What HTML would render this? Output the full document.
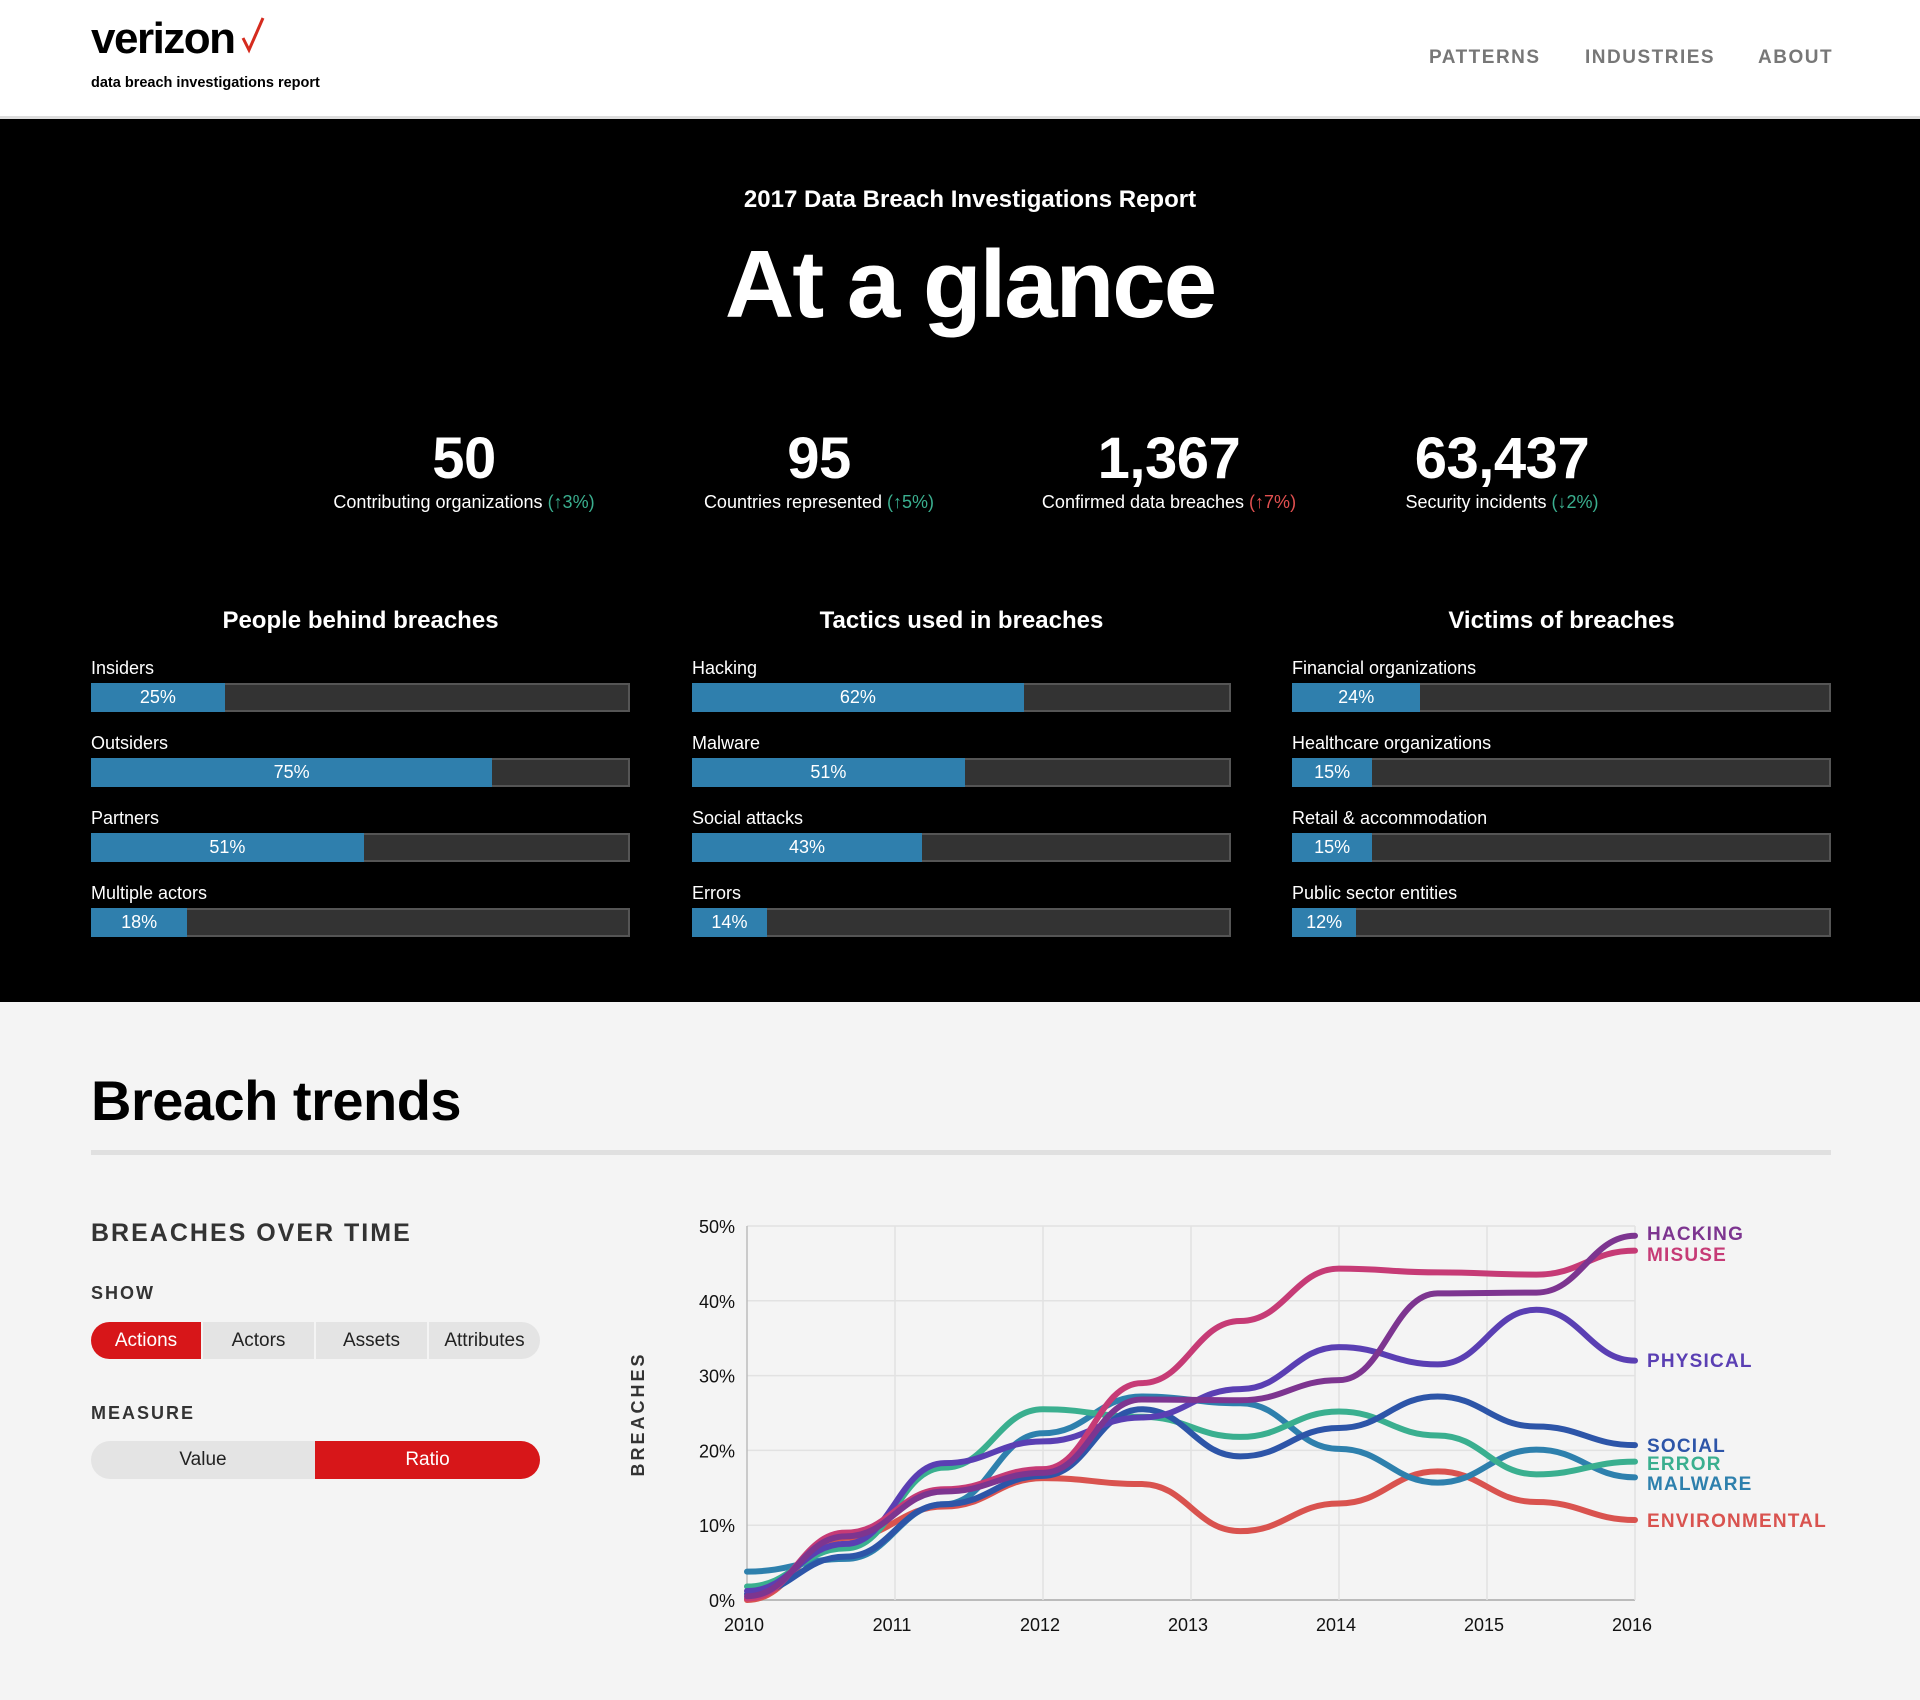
<!DOCTYPE html>
<html><head><meta charset="utf-8"><style>
*{box-sizing:border-box;margin:0;padding:0}
body{width:1920px;height:1700px;overflow:hidden;font-family:"Liberation Sans",sans-serif;background:#f4f4f4}
.hdr{position:absolute;left:0;top:0;width:1920px;height:119px;background:#fff;border-bottom:3px solid #ddd}
.logo{position:absolute;left:91px;top:14px;font-size:44px;font-weight:bold;letter-spacing:-1.5px;color:#000}
.sub{position:absolute;left:91px;top:75px;font-size:14.5px;font-weight:bold;color:#000}
.nav{position:absolute;top:47px;font-size:19px;font-weight:bold;color:#777;letter-spacing:1.5px}
.blk{position:absolute;left:0;top:119px;width:1920px;height:883px;background:#000;color:#fff}
.c{position:absolute;text-align:center;transform:translateX(-50%);white-space:nowrap}
.stat .n{font-size:58px;font-weight:bold;letter-spacing:-0.5px}
.stat .l{font-size:18px;margin-top:0px}
.up{color:#3aaf8f}.dn{color:#e25050}
.col{position:absolute;top:488px;width:539px}
.col h3{text-align:center;font-size:24px;font-weight:bold;margin-bottom:22px}
.row{height:75px}
.row .lab{font-size:18px;height:22px;line-height:22px}
.bar{margin-top:4px;height:29px;background:#333;border:2px solid #555;position:relative}
.bar .f{position:absolute;left:-2px;top:-2px;bottom:-2px;background:#2f7fad;color:#fff;font-size:18px;text-align:center;line-height:29px}
h1.bt{position:absolute;left:91px;top:1068px;font-size:56px;font-weight:bold;color:#000;letter-spacing:-0.5px}
.rule{position:absolute;left:91px;top:1150px;width:1740px;height:5px;background:#e0e0e0}
.lbl{position:absolute;left:91px;font-weight:bold;color:#333;letter-spacing:2px}
.btns{position:absolute;left:91px;width:449px;display:flex;gap:2px}
.btns div{background:#e4e4e4;color:#222;font-size:19px;display:flex;align-items:center;justify-content:center;height:100%}
.btns .on{background:#d71619;color:#fff}
</style></head><body>
<div class="hdr">
 <div class="logo">verizon</div>
 <svg style="position:absolute;left:240px;top:16px" width="26" height="38"><path d="M3 22 L9 34 L23 2" fill="none" stroke="#d52b1e" stroke-width="3"/></svg>
 <div class="sub">data breach investigations report</div>
 <div class="nav" style="left:1429px">PATTERNS</div>
 <div class="nav" style="left:1585px">INDUSTRIES</div>
 <div class="nav" style="left:1758px">ABOUT</div>
</div>
<div class="blk">
 <div class="c" style="left:970px;top:67px;font-size:24px;font-weight:bold">2017 Data Breach Investigations Report</div>
 <div class="c" style="left:970px;top:111px;font-size:96px;font-weight:bold;letter-spacing:-2px">At a glance</div>
 <div class="c stat" style="left:464px;top:306px"><div class="n">50</div><div class="l">Contributing organizations <span class="up">(↑3%)</span></div></div>
 <div class="c stat" style="left:819px;top:306px"><div class="n">95</div><div class="l">Countries represented <span class="up">(↑5%)</span></div></div>
 <div class="c stat" style="left:1169px;top:306px"><div class="n">1,367</div><div class="l">Confirmed data breaches <span class="dn">(↑7%)</span></div></div>
 <div class="c stat" style="left:1502px;top:306px"><div class="n">63,437</div><div class="l">Security incidents <span class="up">(↓2%)</span></div></div>
 <div class="col" style="left:91px"><h3>People behind breaches</h3>
  <div class="row"><div class="lab">Insiders</div><div class="bar"><div class="f" style="width:25%">25%</div></div></div>
  <div class="row"><div class="lab">Outsiders</div><div class="bar"><div class="f" style="width:75%">75%</div></div></div>
  <div class="row"><div class="lab">Partners</div><div class="bar"><div class="f" style="width:51%">51%</div></div></div>
  <div class="row"><div class="lab">Multiple actors</div><div class="bar"><div class="f" style="width:18%">18%</div></div></div>
 </div>
 <div class="col" style="left:692px"><h3>Tactics used in breaches</h3>
  <div class="row"><div class="lab">Hacking</div><div class="bar"><div class="f" style="width:62%">62%</div></div></div>
  <div class="row"><div class="lab">Malware</div><div class="bar"><div class="f" style="width:51%">51%</div></div></div>
  <div class="row"><div class="lab">Social attacks</div><div class="bar"><div class="f" style="width:43%">43%</div></div></div>
  <div class="row"><div class="lab">Errors</div><div class="bar"><div class="f" style="width:14%">14%</div></div></div>
 </div>
 <div class="col" style="left:1292px"><h3>Victims of breaches</h3>
  <div class="row"><div class="lab">Financial organizations</div><div class="bar"><div class="f" style="width:24%">24%</div></div></div>
  <div class="row"><div class="lab">Healthcare organizations</div><div class="bar"><div class="f" style="width:15%">15%</div></div></div>
  <div class="row"><div class="lab">Retail &amp; accommodation</div><div class="bar"><div class="f" style="width:15%">15%</div></div></div>
  <div class="row"><div class="lab">Public sector entities</div><div class="bar"><div class="f" style="width:12%">12%</div></div></div>
 </div>
</div>
<h1 class="bt">Breach trends</h1>
<div class="rule"></div>
<div class="lbl" style="top:1219px;font-size:25px">BREACHES OVER TIME</div>
<div class="lbl" style="top:1283px;font-size:18px">SHOW</div>
<div class="btns" style="top:1322px;height:37px">
 <div class="on" style="width:110px;border-radius:19px 0 0 19px">Actions</div>
 <div style="width:111px">Actors</div>
 <div style="width:111px">Assets</div>
 <div style="width:111px;border-radius:0 19px 19px 0">Attributes</div>
</div>
<div class="lbl" style="top:1403px;font-size:18px">MEASURE</div>
<div class="btns" style="top:1441px;height:38px;gap:0">
 <div style="width:224px;border-radius:19px 0 0 19px">Value</div>
 <div class="on" style="width:225px;border-radius:0 19px 19px 0">Ratio</div>
</div>
<svg id="chart" width="1920" height="1700" style="position:absolute;left:0;top:0"></svg>
<script>
const years=[2010,2011,2012,2013,2014,2015,2016];
const yTicks=[0,10,20,30,40,50];
const times=[0,2/3,4/3,2,8/3,10/3,4,14/3,16/3,6];
const seriesNames=["HACKING","MISUSE","PHYSICAL","SOCIAL","ERROR","MALWARE","ENVIRONMENTAL"];
const hacking=[0.5,8.5,14.5,17,26.8,26.7,29.4,41,41.1,48.7];
const misuse=[0.2,9,14.8,17.5,29,37.3,44.3,43.8,43.5,46.7];
const physical=[1.2,7.5,18.3,21.2,24.4,28.2,33.8,31.5,38.8,32];
const social=[0.8,5.8,12.8,16.6,25.5,19.2,23,27.2,23.2,20.7];
const error=[1.8,6.9,17.7,25.5,24.5,21.8,25.2,22,16.8,18.5];
const malware=[3.8,5.5,12.8,22.3,27.2,26.3,20.2,15.7,20.1,16.4];
const environmental=[0,8.3,12.5,16.3,15.5,9.2,12.9,17.2,13.1,10.7];
const seriesValues=[hacking,misuse,physical,social,error,malware,environmental];
const colors=["#7d3590","#c63b76","#5a3fb3","#2d55a8","#3aaf8f","#2e80ad","#d9534f"];
const labelY=[1233,1254,1360,1445,1463,1483,1520];
const X0=747,X1=1635,Y0=1600,Y1=1226;
const x=t=>X0+t/6*(X1-X0);
const y=v=>Y0-v/50*(Y0-Y1);
const svg=document.getElementById('chart');
const NS='http://www.w3.org/2000/svg';
function mk(tag,attrs,txt){const e=document.createElementNS(NS,tag);for(const k in attrs)e.setAttribute(k,attrs[k]);if(txt!=null)e.textContent=txt;svg.appendChild(e);return e;}
yTicks.forEach(v=>{
 const g=mk('line',{x1:X0,x2:X1,y1:y(v),y2:y(v),stroke:v===0?'#bbb':'#e2e2e2','stroke-width':v===0?2:1.5});
 
 
 const t=mk('text',{x:735,y:y(v)+7,'text-anchor':'end','font-size':18,fill:'#111','font-family':'Liberation Sans'},v+'%');
 
 
});
years.forEach((yr,i)=>{
 const g=mk('line',{x1:x(i),x2:x(i),y1:Y1,y2:Y0,stroke:i===0?'#bbb':'#e2e2e2','stroke-width':1.5});
 
 
 const t=mk('text',{x:x(i)-3,y:1631,'text-anchor':'middle','font-size':18,fill:'#111','font-family':'Liberation Sans'},yr);
 
 
});
const yt=mk('text',{x:0,y:0,transform:'translate(644,1414) rotate(-90)','text-anchor':'middle','font-size':18,'font-weight':'bold','letter-spacing':3,fill:'#333','font-family':'Liberation Sans'},'BREACHES');


function path(vals){
 const p=vals.map((v,i)=>[x(times[i]),y(v)]);
 const n=p.length;
 let d='M'+p[0][0]+','+p[0][1];
 for(let i=0;i<n-1;i++){const h=(p[i+1][0]-p[i][0])*0.45;
  d+=' C'+(p[i][0]+h)+','+p[i][1]+' '+(p[i+1][0]-h)+','+p[i+1][1]+' '+p[i+1][0]+','+p[i+1][1];}
 return d;
}
for(let s=seriesValues.length-1;s>=0;s--){
 const l=mk('path',{d:path(seriesValues[s]),fill:'none',stroke:colors[s],'stroke-width':6,'stroke-linecap':'round'});
 
 
}
seriesNames.forEach((nm,s)=>{
 const t=mk('text',{x:1647,y:labelY[s]+7,'font-size':19,'font-weight':'bold','letter-spacing':1.2,fill:colors[s],'font-family':'Liberation Sans'},nm);
 
 
});
</script>
</body></html>
